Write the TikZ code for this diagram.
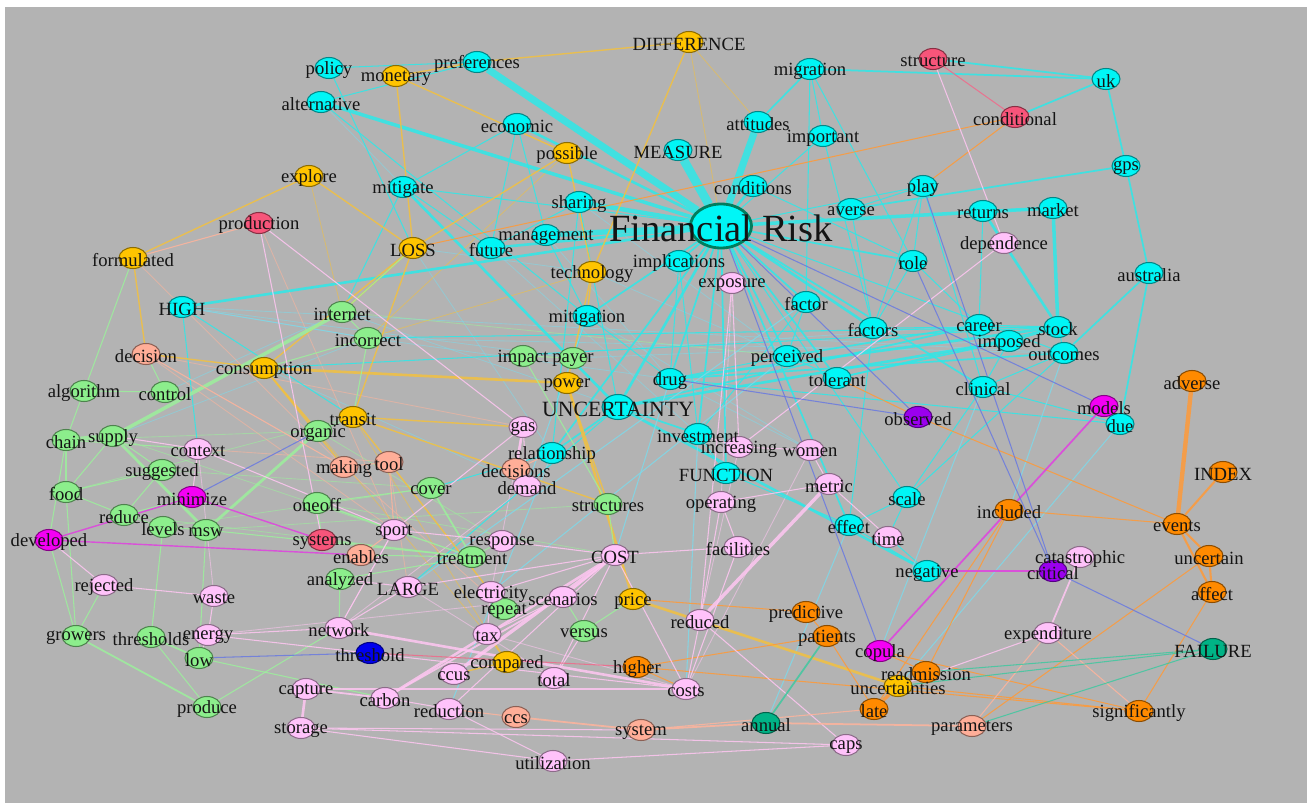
\documentclass[tikz,border=0pt]{standalone}
\usepackage{fontspec}
\setmainfont{Liberation Serif}
\usetikzlibrary{shapes.geometric}
\definecolor{bggray}{HTML}{B3B3B3}
\definecolor{labtext}{HTML}{141414}
\definecolor{ccyan}{HTML}{00F6F6}
\definecolor{cgold}{HTML}{FFC400}
\definecolor{cred}{HTML}{F7557A}
\definecolor{cgreen}{HTML}{8CEE8C}
\definecolor{csalmon}{HTML}{FFAE98}
\definecolor{cpink}{HTML}{FFC2FA}
\definecolor{cmag}{HTML}{F400F4}
\definecolor{cpurple}{HTML}{9A00EE}
\definecolor{cblue}{HTML}{0000EE}
\definecolor{corange}{HTML}{FF8A00}
\definecolor{cteal}{HTML}{00B386}
\definecolor{ecyan}{HTML}{2EE8E8}
\definecolor{elcyan}{HTML}{7FD8E8}
\definecolor{egold}{HTML}{F2C040}
\definecolor{egreen}{HTML}{9CF09C}
\definecolor{eorange}{HTML}{FF9A38}
\definecolor{epink}{HTML}{FFC6F2}
\definecolor{esalmon}{HTML}{FFB39C}
\definecolor{emag}{HTML}{E040E0}
\definecolor{eblue}{HTML}{6A7AE0}
\definecolor{eteal}{HTML}{40C8A0}
\definecolor{ered}{HTML}{F06A8A}
\tikzset{
  nd/.style={ellipse, draw=#1!55!black, fill=#1, line width=0.6pt,
    minimum width=0.56cm, minimum height=0.42cm, inner sep=0pt},
  lab/.style={text=labtext, font=\fontsize{10.6}{12}\selectfont, inner sep=0pt,
    yshift=-1.2pt},
  edge/.style={draw=#1, line width=0.6pt, opacity=0.85},
  faint/.style={draw=#1, line width=0.5pt, opacity=0.55},
}
\pgfdeclarelayer{edges}
\pgfsetlayers{edges,main}

\begin{document}
\begin{tikzpicture}[x=0.02cm,y=-0.02cm]
  \useasboundingbox (0,0) rectangle (1307,803);
  \begin{pgfonlayer}{edges}
    \fill[white] (0,0) rectangle (1307,803);
    \fill[bggray] (5,7) rectangle (1307,803);
  \end{pgfonlayer}

  % the two hubs
  \node[nd=ccyan, draw=cteal!70!black, line width=1.6pt,
    minimum width=1.22cm, minimum height=0.88cm] (FR) at (721,226) {};
  \node[nd=ccyan, minimum width=0.64cm, minimum height=0.5cm] (UNCERTAINTY) at (618,407) {};

  % word nodes: name/x/y/colour
  \foreach \n/\x/\y/\c in {
    policy/329/68/ccyan, alternative/321/102/ccyan, preferences/477/62/ccyan,
    migration/810/69/ccyan, economic/517/124/ccyan, attitudes/758/122/ccyan,
    MEASURE/678/150/ccyan, important/823/136/ccyan, mitigate/403/187/ccyan,
    conditions/753/186/ccyan, sharing/579/202/ccyan, averse/851/209/ccyan,
    management/546/235/ccyan, future/491/248/ccyan, implications/679/261/ccyan,
    uk/1106/79/ccyan, gps/1126/166/ccyan, play/923/186/ccyan,
    returns/983/211/ccyan, market/1053/208/ccyan, role/913/261/ccyan,
    australia/1149/273/ccyan, HIGH/182/307/ccyan, factor/806/302/ccyan,
    factors/873/328/ccyan, mitigation/587/316/ccyan, perceived/787/356/ccyan,
    drug/670/379/ccyan, tolerant/837/378/ccyan, investment/698/434/ccyan,
    relationship/552/453/ccyan, FUNCTION/726/473/ccyan, effect/849/525/ccyan,
    career/979/325/ccyan, stock/1058/327/ccyan, imposed/1009/341/ccyan,
    outcomes/1064/353/ccyan, clinical/983/387/ccyan, due/1120/424/ccyan,
    scale/907/497/ccyan, negative/927/571/ccyan,
    monetary/396/76/cgold, DIFFERENCE/689/42/cgold, possible/567/153/cgold,
    explore/309/176/cgold, LOSS/413/248/cgold, formulated/133/258/cgold,
    technology/592/272/cgold, consumption/264/368/cgold, transit/353/417/cgold,
    power/567/383/cgold, price/633/599/cgold, compared/507/662/cgold,
    uncertainties/898/686/cgold,
    production/259/223/cred, structure/933/59/cred, conditional/1015/117/cred,
    systems/322/540/cred,
    internet/342/312/cgreen, incorrect/368/338/cgreen, algorithm/84/391/cgreen,
    control/165/392/cgreen, chain/66/440/cgreen, supply/113/436/cgreen,
    organic/318/431/cgreen, suggested/162/470/cgreen, food/66/492/cgreen,
    reduce/124/515/cgreen, levels/163/527/cgreen, msw/206/530/cgreen,
    oneoff/317/503/cgreen, cover/431/488/cgreen, impact/523/356/cgreen,
    payer/573/358/cgreen, structures/608/504/cgreen, treatment/472/557/cgreen,
    analyzed/340/579/cgreen, repeat/504/609/cgreen, versus/584/631/cgreen,
    growers/76/636/cgreen, thresholds/151/637/cgreen, low/199/658/cgreen,
    produce/207/707/cgreen,
    decision/146/354/csalmon, making/344/467/csalmon, tool/389/462/csalmon,
    decisions/516/469/csalmon, enables/361/555/csalmon, ccs/516/717/csalmon,
    system/641/730/csalmon, parameters/972/726/csalmon,
    exposure/732/283/cpink, dependence/1004/243/cpink, context/198/449/cpink,
    gas/523/427/cpink, increasing/739/447/cpink, women/810/450/cpink,
    demand/527/486/cpink, metric/829/484/cpink, operating/721/502/cpink,
    sport/394/530/cpink, response/502/541/cpink, COST/615/555/cpink,
    facilities/738/547/cpink, time/888/537/cpink, catastrophic/1080/557/cpink,
    LARGE/408/587/cpink, rejected/104/585/cpink, waste/214/596/cpink,
    electricity/491/592/cpink, scenarios/563/597/cpink, reduced/700/620/cpink,
    energy/208/635/cpink, network/339/628/cpink, tax/487/634/cpink,
    ccus/454/674/cpink, total/554/678/cpink, capture/306/689/cpink,
    carbon/385/698/cpink, costs/686/689/cpink, reduction/449/709/cpink,
    storage/301/728/cpink, utilization/553/761/cpink, caps/846/745/cpink,
    expenditure/1048/633/cpink,
    minimize/192/497/cmag, developed/49/540/cmag, models/1104/406/cmag,
    copula/880/651/cmag,
    observed/918/417/cpurple, critical/1053/571/cpurple,
    threshold/370/653/cblue,
    adverse/1192/381/corange, INDEX/1223/472/corange, included/1009/510/corange,
    events/1177/524/corange, uncertain/1209/556/corange, affect/1212/592/corange,
    predictive/806/612/corange, patients/827/636/corange, higher/637/667/corange,
    readmission/926/672/corange, late/874/709/corange, significantly/1139/711/corange,
    FAILURE/1213/649/cteal, annual/766/723/cteal}
    \node[nd=\c] (\n) at (\x,\y) {};

  % labels sit on their nodes, above everything
  \foreach \n in {
    policy, alternative, preferences, migration, economic, attitudes, MEASURE,
    important, mitigate, conditions, sharing, averse, management, future,
    implications, uk, gps, play, returns, market, role, australia, HIGH, factor,
    factors, mitigation, perceived, drug, tolerant, investment, relationship,
    FUNCTION, effect, career, stock, imposed, outcomes, clinical, due, scale,
    negative, monetary, DIFFERENCE, possible, explore, LOSS, formulated,
    technology, consumption, transit, power, price, compared, uncertainties,
    production, structure, conditional, systems, internet, incorrect, algorithm,
    control, chain, supply, organic, suggested, food, reduce, levels, msw, oneoff,
    cover, impact, payer, structures, treatment, analyzed, repeat, versus,
    growers, thresholds, low, produce, decision, making, tool, decisions, enables,
    ccs, system, parameters, exposure, dependence, context, gas, increasing,
    women, demand, metric, operating, sport, response, COST, facilities, time,
    catastrophic, LARGE, rejected, waste, electricity, scenarios, reduced,
    energy, network, tax, ccus, total, capture, carbon, costs, reduction,
    storage, utilization, caps, expenditure, minimize, developed, models, copula,
    observed, critical, threshold, adverse, INDEX, included, events, uncertain,
    affect, predictive, patients, higher, readmission, late, significantly,
    FAILURE, annual}
    \node[lab] (\n-t) at (\n.center) {\n};
  \node[lab, font=\fontsize{12.4}{14}\selectfont] (UNCERTAINTY-t) at (UNCERTAINTY.center) {UNCERTAINTY};
  \node[lab, font=\fontsize{21.9}{24}\selectfont] (FR-t) at (FR.center) {Financial Risk};

  \begin{pgfonlayer}{edges}
    % faint cross links first
    \foreach \a/\b in {HIGH/payer, internet/UNCERTAINTY, incorrect/drug,
        LOSS/relationship, LOSS/technology, mitigation/women, drug/women,
        consumption/demand, control/internet, supply/incorrect, alternative/UNCERTAINTY,
        future/investment, management/drug, sharing/perceived, technology/tolerant,
        HIGH/outcomes, impact/career, payer/imposed, incorrect/outcomes}
      \draw[faint=elcyan] (\a) -- (\b);
    \foreach \a/\b in {chain/organic, suggested/cover, food/transit,
        internet/perceived, organic/response, msw/structures, reduce/treatment,
        levels/cover, supply/treatment, oneoff/COST}
      \draw[faint=egreen] (\a) -- (\b);
    \foreach \a/\b in {decision/gas, decision/sport, context/tool, formulated/making,
        production/sport, tool/LARGE, making/repeat}
      \draw[faint=esalmon] (\a) -- (\b);
    \foreach \a/\b in {gas/electricity, demand/network, context/waste,
        increasing/reduced, women/costs, exposure/operating, sport/network,
        LARGE/total, tax/costs, energy/scenarios}
      \draw[faint=epink] (\a) -- (\b);
    \foreach \a/\b in {explore/internet, technology/incorrect, consumption/tax,
        possible/incorrect, transit/compared, DIFFERENCE/attitudes, DIFFERENCE/FR}
      \draw[faint=egold] (\a) -- (\b);

    % cyan links round the hub
    \draw[edge=ecyan, line width=5pt] (FR) -- (MEASURE);
    \foreach \a/\b in {FR/preferences, FR/attitudes}
      \draw[edge=ecyan, line width=4pt] (\a) -- (\b);
    \draw[edge=ecyan, line width=3pt] (FR) -- (management);
    \draw[edge=ecyan, line width=2.5pt] (FR) -- (sharing);
    \foreach \a/\b in {FR/alternative, FR/market, market/stock}
      \draw[edge=ecyan, line width=2pt] (\a) -- (\b);
    \foreach \a/\b in {FR/HIGH, FR/conditions, FR/factors, FR/UNCERTAINTY,
        mitigate/UNCERTAINTY, UNCERTAINTY/negative, returns/stock, FR/future,
        FR/economic, UNCERTAINTY/imposed, imposed/stock, drug/stock}
      \draw[edge=ecyan, line width=1.5pt] (\a) -- (\b);
    \foreach \a/\b in {FR/mitigation, FR/implications, FR/investment, FR/drug,
        FR/perceived, FR/factor, FR/tolerant, FR/role, FR/effect, FR/clinical,
        FR/FUNCTION, FR/relationship, UNCERTAINTY/relationship,
        UNCERTAINTY/investment, UNCERTAINTY/career, perceived/career,
        tolerant/imposed, drug/outcomes, returns/market, uk/gps, gps/australia,
        gps/averse, structure/uk, conditional/uk, migration/uk,
        migration/attitudes, australia/outcomes, australia/due}
      \draw[edge=ecyan, line width=1pt] (\a) -- (\b);
    \foreach \a/\b in {policy/preferences, policy/LOSS, alternative/preferences,
        alternative/mitigation, economic/future, economic/mitigate,
        mitigate/future, sharing/relationship, management/mitigation,
        migration/factor, migration/role, important/factors, FR/important,
        FR/play, play/role, play/factors, play/clinical, role/factors,
        role/career, factor/perceived, perceived/tolerant, clinical/imposed,
        clinical/outcomes, clinical/scale, scale/outcomes, scale/effect,
        scale/time, negative/effect, negative/time, effect/factors,
        outcomes/stock, due/drug, due/models, HIGH/context, HIGH/transit,
        implications/drug, implications/investment, investment/FUNCTION,
        FUNCTION/effect, mitigation/payer, mitigation/drug, perceived/drug,
        factor/investment, conditions/role, averse/factors, averse/play,
        returns/career, career/stock, factors/stock, FR/outcomes, tolerant/stock,
        economic/management, future/sharing, mitigate/internet, incorrect/stock,
        consumption/stock, relationship/cover, UNCERTAINTY/LARGE, due/clinical,
        FR/scale, sharing/UNCERTAINTY, FR/mitigate, important/migration}
      \draw[edge=ecyan] (\a) -- (\b);
    \foreach \a/\b in {HIGH/incorrect, mitigation/demand, investment/costs,
        drug/COST, effect/annual, clinical/copula, outcomes/included,
        due/uncertainties, factor/LARGE, perceived/electricity, relationship/reduction}
      \draw[edge=elcyan] (\a) -- (\b);

    % gold links
    \foreach \a/\b in {consumption/power, power/price, price/uncertainties}
      \draw[edge=egold, line width=1.5pt] (\a) -- (\b);
    \foreach \a/\b in {DIFFERENCE/preferences, monetary/preferences,
        monetary/LOSS, monetary/possible, possible/LOSS, explore/formulated,
        explore/LOSS, DIFFERENCE/technology, LOSS/transit, LOSS/internet,
        transit/gas, transit/tool, technology/power, technology/mitigation,
        consumption/organic, consumption/making, compared/ccus, compared/tax,
        power/structures, formulated/decision, possible/technology,
        transit/structures, consumption/decision, LOSS/consumption, tool/repeat}
      \draw[edge=egold, line width=0.8pt] (\a) -- (\b);

    % green links
    \draw[edge=egreen, line width=2.5pt] (chain) -- (supply);
    \draw[edge=egreen, line width=2pt] (supply) -- (internet);
    \foreach \a/\b in {supply/msw, msw/organic}
      \draw[edge=egreen, line width=1.6pt] (\a) -- (\b);
    \foreach \a/\b in {cover/treatment, growers/produce, thresholds/low}
      \draw[edge=egreen, line width=1pt] (\a) -- (\b);
    \foreach \a/\b in {chain/developed, chain/food, supply/food, food/reduce,
        food/growers, growers/rejected, growers/developed, thresholds/produce,
        thresholds/levels, levels/msw, msw/low, reduce/levels, reduce/minimize,
        suggested/reduce, suggested/supply, algorithm/control, algorithm/formulated,
        algorithm/chain, control/decision, oneoff/treatment, oneoff/sport,
        oneoff/systems, systems/treatment, enables/treatment, analyzed/treatment,
        analyzed/network, impact/payer, structures/COST, versus/price,
        repeat/electricity, treatment/response, organic/transit, internet/LOSS,
        incorrect/transit, cover/oneoff, produce/network, low/carbon,
        incorrect/consumption, msw/treatment, chain/context, food/suggested,
        internet/incorrect, impact/structures, versus/scenarios}
      \draw[edge=egreen] (\a) -- (\b);

    % orange links
    \draw[edge=eorange, line width=2.5pt] (adverse) -- (events);
    \draw[edge=eorange, line width=2pt] (uncertainties) -- (late);
    \foreach \a/\b in {INDEX/events, events/uncertain, events/affect, uncertain/affect}
      \draw[edge=eorange, line width=1.2pt] (\a) -- (\b);
    \foreach \a/\b in {included/events, included/late, included/readmission,
        predictive/patients, patients/late, higher/significantly, higher/costs,
        copula/significantly, uncertain/parameters, affect/significantly,
        uncertainties/significantly, observed/events, tolerant/observed,
        conditional/LOSS, conditional/play, predictive/price, higher/patients,
        readmission/uncertainties, copula/readmission}
      \draw[edge=eorange] (\a) -- (\b);

    % pink links
    \foreach \a/\b in {COST/ccus, reduced/metric}
      \draw[edge=epink, line width=2pt] (\a) -- (\b);
    \foreach \a/\b in {COST/carbon, capture/storage, gas/decisions, network/costs}
      \draw[edge=epink, line width=1.5pt] (\a) -- (\b);
    \foreach \a/\b in {capture/carbon, catastrophic/expenditure, COST/scenarios,
        scenarios/carbon}
      \draw[edge=epink, line width=1pt] (\a) -- (\b);
    \foreach \a/\b in {COST/total, COST/reduction, COST/costs, COST/LARGE,
        COST/electricity, reduced/costs, reduced/caps, exposure/increasing,
        increasing/investment, women/increasing, women/metric, time/metric,
        demand/gas, demand/decisions, context/minimize, context/sport,
        context/supply, rejected/waste, waste/energy, energy/network,
        energy/costs, storage/caps, storage/utilization, utilization/caps,
        utilization/reduction, carbon/reduction, network/LARGE, LARGE/analyzed,
        tax/electricity, tax/scenarios, operating/facilities, operating/reduced,
        facilities/costs, structure/dependence, dependence/increasing,
        expenditure/uncertainties, response/sport, response/COST, gas/sport,
        production/gas, production/systems, rejected/developed, energy/low,
        capture/costs, COST/facilities, metric/operating, exposure/reduced,
        network/sport, total/versus, storage/system}
      \draw[edge=epink] (\a) -- (\b);

    % salmon, teal, red links
    \foreach \a/\b in {ccs/system, system/annual, annual/parameters}
      \draw[edge=esalmon, line width=1pt] (\a) -- (\b);
    \foreach \a/\b in {decision/making, making/tool, tool/sport, enables/sport,
        decisions/relationship, ccs/reduction, parameters/expenditure,
        expenditure/significantly, system/late, production/formulated}
      \draw[edge=esalmon] (\a) -- (\b);
    \draw[edge=eteal, line width=1pt] (annual) -- (patients);
    \foreach \a/\b in {FAILURE/parameters, FAILURE/readmission, FAILURE/uncertainties}
      \draw[edge=eteal] (\a) -- (\b);
    \foreach \a/\b in {structure/conditional, threshold/higher}
      \draw[edge=ered] (\a) -- (\b);

    % magenta, purple and blue links
    \draw[edge=emag, line width=1pt] (models) -- (copula);
    \foreach \a/\b in {minimize/developed, developed/enables, minimize/systems,
        critical/negative}
      \draw[edge=emag, line width=0.8pt] (\a) -- (\b);
    \foreach \a/\b in {threshold/low, critical/FAILURE, play/critical,
        role/critical, FR/observed, minimize/organic, copula/FR, FR/models,
        observed/drug}
      \draw[edge=eblue] (\a) -- (\b);
  \end{pgfonlayer}
\end{tikzpicture}
\end{document}
